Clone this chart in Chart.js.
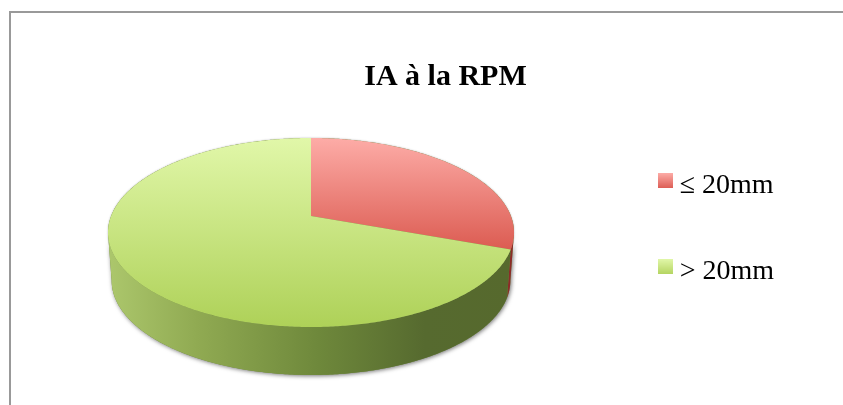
<!DOCTYPE html>
<html><head><meta charset="utf-8">
<style>html,body{margin:0;padding:0;background:#fff;overflow:hidden}canvas{display:block}</style>
<script src="https://cdn.jsdelivr.net/npm/chart.js@4"></script>
</head><body>
<canvas id="c" width="843" height="405"></canvas>
<script>
const titleText = 'IA à la RPM';
const categories = ['≤ 20mm', '> 20mm'];
const values = [30.6, 69.4];
const faceStops = [['#fdaca7', '#db5a50'], ['#e1f7a9', '#aed158']];
const faceSpan = [[138, 252], [138, 327]];
const wallStops = [
  [[0, '#8c2b28'], [1, '#8c2b28']],
  [[0, '#acc76c'], [0.22, '#90aa52'], [0.52, '#6e883b'], [0.78, '#566a2f'], [1, '#56692d']]
];

// Projection of the tilted pie
const CX = 311, CY = 232.5, AX = 199.9, BY = 94.5, K = -0.1746, DEPTH = 48, RIM = 0.982;
function project(a, r, drop, s) {
  const x = Math.cos(a) * r, y = Math.sin(a) * r, w = 1 + K * y;
  return [CX + s * AX * x / w, CY + (BY * y + K * BY) / w + drop];
}
function tracePath(ctx, from, to, drop, s, move) {
  const n = Math.max(2, Math.ceil(Math.abs(to - from) / 0.01));
  for (let i = 0; i <= n; i++) {
    const p = project(from + (to - from) * i / n, 1, drop, s);
    if (i === 0 && move) ctx.moveTo(p[0], p[1]); else ctx.lineTo(p[0], p[1]);
  }
}
const FRONT_START = Math.asin(-K);              // silhouette, right side
const FRONT_END = Math.PI - FRONT_START;        // silhouette, left side

const pie3d = {
  id: 'pie3d',
  beforeDraw(chart) {
    const ctx = chart.ctx;
    ctx.save();
    ctx.fillStyle = '#fff'; ctx.fillRect(0, 0, chart.width, chart.height);
    ctx.strokeStyle = '#999'; ctx.lineWidth = 2;
    ctx.beginPath(); ctx.moveTo(10, 405); ctx.lineTo(10, 12); ctx.lineTo(843, 12); ctx.stroke();
    ctx.restore();
  },
  beforeDatasetsDraw(chart) {
    const ctx = chart.ctx, arcs = chart.getDatasetMeta(0).data;
    ctx.save();
    // soft shadow under the whole body
    ctx.save();
    ctx.shadowColor = 'rgba(0,0,0,0.55)'; ctx.shadowBlur = 4; ctx.shadowOffsetY = 1; ctx.shadowOffsetX = 1;
    ctx.fillStyle = '#6e883b';
    ctx.beginPath();
    tracePath(ctx, FRONT_START, FRONT_END, 0, 1, true);
    tracePath(ctx, FRONT_END, FRONT_START, DEPTH, RIM, false);
    ctx.closePath(); ctx.fill();
    ctx.shadowOffsetX = 0; ctx.shadowOffsetY = 0; ctx.shadowBlur = 2; ctx.shadowColor = 'rgba(0,0,0,0.3)';
    ctx.beginPath();
    tracePath(ctx, 0, Math.PI * 2, 0, 1, true);
    ctx.closePath(); ctx.fill();
    ctx.restore();
    // outer walls
    arcs.forEach((el, i) => {
      let a0 = el.startAngle, a1 = el.endAngle;
      const ranges = [[FRONT_START, FRONT_END], [FRONT_START + 2 * Math.PI, FRONT_END + 2 * Math.PI], [FRONT_START - 2 * Math.PI, FRONT_END - 2 * Math.PI]];
      ranges.forEach(r => {
        const s = Math.max(a0, r[0]), e = Math.min(a1, r[1]);
        if (e <= s) return;
        const g = ctx.createLinearGradient(108, 0, 514, 0);
        wallStops[i].forEach(st => g.addColorStop(st[0], st[1]));
        ctx.fillStyle = g;
        ctx.beginPath();
        tracePath(ctx, s, e, 0, 1, true);
        tracePath(ctx, e, s, DEPTH, RIM, false);
        ctx.closePath(); ctx.fill();
      });
    });
    // top faces
    arcs.forEach((el, i) => {
      const g = ctx.createLinearGradient(0, faceSpan[i][0], 0, faceSpan[i][1]);
      g.addColorStop(0, faceStops[i][0]); g.addColorStop(1, faceStops[i][1]);
      ctx.fillStyle = g;
      const apex = project(0, 0, 0, 1);
      ctx.beginPath(); ctx.moveTo(apex[0], apex[1]);
      tracePath(ctx, el.startAngle, el.endAngle, 0, 1, false);
      ctx.closePath(); ctx.fill();
    });
    ctx.restore();
    return false;
  }
};

function swatch(i) {
  const c = document.createElement('canvas'); c.width = 15; c.height = 25;
  const x = c.getContext('2d'), g = x.createLinearGradient(0, 0, 0, 15);
  g.addColorStop(0, faceStops[i][0]); g.addColorStop(1, i === 0 ? '#dd5e56' : '#b5d562');
  x.fillStyle = g; x.fillRect(0, 0, 15, 15);
  return c;
}

new Chart(document.getElementById('c'), {
  type: 'pie',
  data: { labels: categories, datasets: [{ data: values, backgroundColor: ['#e0716a', '#c4e27e'], borderWidth: 0 }] },
  options: {
    responsive: false, animation: false,
    layout: { padding: { left: 107, right: 59, top: 52, bottom: 0 } },
    events: [],
    plugins: {
      tooltip: { enabled: false },
      title: { display: true, text: titleText, color: '#000',
        font: { family: '"Liberation Serif"', size: 30, weight: 'bold', lineHeight: 1.2 },
        padding: { top: 7, bottom: 10 } },
      legend: { position: 'right', align: 'center',
        labels: { color: '#000', font: { family: '"Liberation Serif"', size: 28 },
          usePointStyle: true, pointStyleWidth: 1, padding: 58,
          generateLabels: () => categories.map((t, i) => ({ text: t, pointStyle: swatch(i), fillStyle: faceStops[i][1], strokeStyle: 'transparent', lineWidth: 0, index: i, hidden: false })) } }
    }
  },
  plugins: [pie3d]
});
</script>
</body></html>
